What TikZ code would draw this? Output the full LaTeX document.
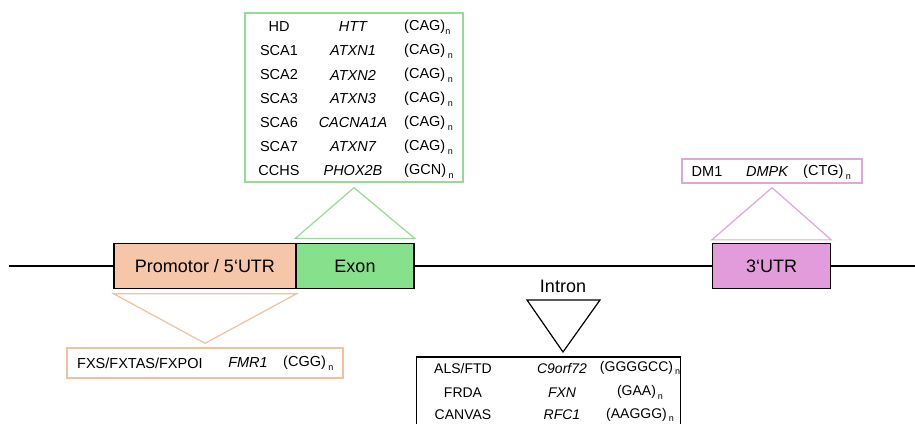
\documentclass[tikz,border=0pt]{standalone}
\usepackage{fontspec}
\setmainfont{Liberation Sans}
\newcommand\rsub[1]{\raisebox{-0.5ex}{\fontsize{9}{9}\selectfont #1}}
\definecolor{exonfill}{RGB}{134,224,140}
\definecolor{greenline}{RGB}{150,218,150}
\definecolor{promofill}{RGB}{246,198,168}
\definecolor{orangeline}{RGB}{240,192,160}
\definecolor{utrfill}{RGB}{226,156,220}
\definecolor{pinkline}{RGB}{220,168,214}
\begin{document}
\begin{tikzpicture}[x=1pt,y=-1pt,
  seg/.style={draw=black,line width=1.3pt,minimum height=45pt,inner sep=0pt,font=\fontsize{18}{18}\selectfont},
  tbox/.style={line width=1.3pt,inner sep=0pt},
  tt/.style={inner sep=0pt,font=\fontsize{14.5}{14.5}\selectfont},
  ti/.style={inner sep=0pt,font=\fontsize{14}{14}\selectfont},
  ttw/.style={tt,anchor=west},
  tri/.style={line width=1.2pt,line join=miter}
]
\useasboundingbox (0,0) rectangle (915,423);

% gene segments
\node[seg,fill=promofill,minimum width=182pt] (promo) at (205,266) {Promotor / 5‘UTR};
\node[seg,fill=exonfill,minimum width=118pt] (exon) at (355,266) {Exon};
\node[seg,fill=utrfill,minimum width=118pt] (utr) at (771.5,266) {3‘UTR};

% backbone
\coordinate (lstart) at (9,266);
\coordinate (lend) at (915,266);
\draw[line width=2.4pt] (lstart) -- (promo.west);
\draw[line width=2.4pt] (exon.east) -- (utr.west);
\draw[line width=2.4pt] (utr.east) -- (lend);

% green table (exon)
\node[tbox,draw=greenline,minimum width=218pt,minimum height=169pt] (gbox) at (354,97.5) {};
\foreach \d/\g/\r/\s [count=\i] in {HD/HTT/CAG/0, SCA1/ATXN1/CAG/2.5, SCA2/ATXN2/CAG/2.5, SCA3/ATXN3/CAG/2.5, SCA6/CACNA1A/CAG/2.5, SCA7/ATXN7/CAG/2.5, CCHS/PHOX2B/GCN/2.5}{
  \node[tt] (gd\i) at (279,3+24*\i) {\d};
  \node[tt] (gg\i) at (353,3+24*\i) {\itshape \g};
  \node[ttw] (gr\i) at (404,3+24*\i) {(\r)\hspace{\s pt}\rsub{n}};
}
\draw[tri,draw=greenline] ([yshift=-5pt]gbox.south) -- ([yshift=4.5pt]exon.north east) -- ([yshift=4.5pt]exon.north west) -- cycle;

% pink table (3'UTR)
\node[tbox,draw=pinkline,minimum width=180pt,minimum height=24pt] (pbox) at (772,171) {};
\node[tt] (pd) at (707,172) {DM1};
\node[tt] (pg) at (767,172) {\itshape DMPK};
\node[ttw] (pr) at (803,172) {(CTG)\hspace{2.5pt}\rsub{n}};
\draw[tri,draw=pinkline] ([yshift=-4pt]pbox.south) -- ([yshift=3pt]utr.north east) -- ([yshift=3pt]utr.north west) -- cycle;

% orange table (promotor)
\node[tbox,draw=orangeline,minimum width=276pt,minimum height=30pt] (obox) at (205,363) {};
\node[ttw] (od) at (77,363) {FXS/FXTAS/FXPOI};
\node[tt] (og) at (248,363) {\itshape FMR1};
\node[ttw] (or) at (283,363) {(CGG)\hspace{2.5pt}\rsub{n}};
\draw[tri,draw=orangeline] ([yshift=4pt]obox.north) -- ([yshift=-4.5pt]promo.south west) -- ([yshift=-4.5pt]promo.south east) -- cycle;

% intron
\node[inner sep=0pt,font=\fontsize{18}{18}\selectfont] (intron) at (563,286) {Intron};
\coordinate (itl) at (527,300);
\coordinate (itr) at (600,300);
\coordinate (itap) at (563,352);
\draw[tri] (itl) -- (itr) -- (itap) -- cycle;
\node[inner sep=0pt,minimum width=263pt,minimum height=80pt,anchor=north] (ibox) at (548.5,357) {};
\draw[line width=1.3pt] (ibox.south west) -- (ibox.north west) -- (ibox.north east) -- (ibox.south east);
\foreach \d/\g/\r/\y [count=\i] in {{ALS/FTD}/C9orf72/GGGGCC/368, FRDA/FXN/GAA/392.5, CANVAS/RFC1/AAGGG/415}{
  \node[ti] (id\i) at (463,\y) {\d};
  \node[ti] (ig\i) at (562,\y) {\itshape \g};
  \node[ti] (ir\i) at (640,\y) {(\r)\hspace{2pt}\rsub{n}};
}
\end{tikzpicture}
\end{document}
